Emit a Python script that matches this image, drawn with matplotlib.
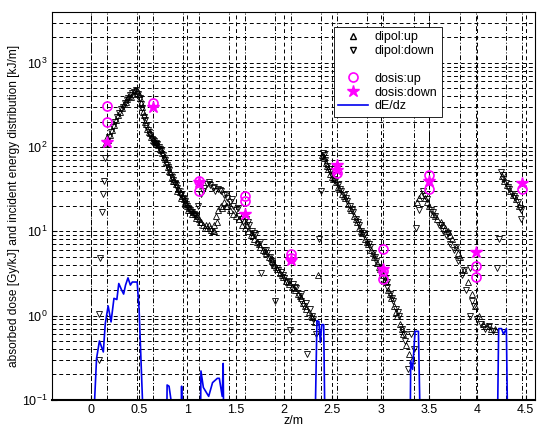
import numpy as np
import matplotlib
matplotlib.use("Agg")
import matplotlib.pyplot as plt
from matplotlib.lines import Line2D

plt.rcParams['font.family'] = ['Liberation Sans', 'DejaVu Sans']

# dipol measurements, upward orientation
z_up = [0.15, 0.17, 0.18, 0.20, 0.22, 0.24, 0.26, 0.28, 0.30, 0.32, 0.34, 0.36, 0.38, 0.40, 0.42, 0.44, 0.46, 0.48,
        0.50, 0.52, 0.54, 0.56, 0.58, 0.60, 0.62, 0.64, 0.66, 0.68, 0.70, 0.72, 0.74, 0.76, 0.78, 0.80, 0.82, 0.84,
        0.86, 0.88, 0.90, 0.92, 0.94, 0.96, 0.98, 1.00, 1.02, 1.04, 1.06, 1.08, 1.10, 1.12,
        1.14, 1.16, 1.18, 1.20, 1.22, 1.24, 1.26, 1.28, 1.30, 1.32, 1.35, 1.38, 1.41, 1.44, 1.47, 1.50, 1.53, 1.56,
        1.60, 1.63, 1.66, 1.69, 1.72, 1.75, 1.78, 1.81, 1.84, 1.87, 1.90, 1.93, 1.96, 1.99, 2.02, 2.05, 2.08, 2.11,
        2.14, 2.17, 2.20, 2.23, 2.26, 2.29, 2.32, 2.35,
        2.39, 2.41, 2.43, 2.45, 2.48, 2.51, 2.54, 2.57, 2.60, 2.63, 2.66, 2.69, 2.72, 2.75, 2.78, 2.81, 2.84, 2.87,
        2.90, 2.93, 2.96, 2.99, 3.02, 3.05, 3.08, 3.11, 3.14, 3.17, 3.20, 3.23, 3.26, 3.29, 3.32,
        3.38, 3.42, 3.46, 3.50, 3.54, 3.58, 3.62, 3.66, 3.70, 3.74, 3.78, 3.82, 3.86, 3.90, 3.94, 3.98, 4.02, 4.06,
        4.10, 4.14, 4.18, 4.25, 4.28, 4.31, 4.34, 4.37, 4.40, 4.43,
        0.51, 0.53, 0.55, 0.57, 0.61, 0.65, 0.69, 0.73, 0.77, 0.81, 0.85, 0.89, 0.93, 0.97, 1.01, 1.05, 1.09, 1.13,
        1.19, 1.23, 1.27, 1.31, 1.36, 1.40,
        1.62, 1.68, 1.74, 1.80, 1.86, 1.92, 1.98, 2.04, 2.10, 2.16, 2.22, 2.28,
        2.40, 2.44, 2.50, 2.56, 2.62, 2.68, 2.74, 2.80, 2.86, 2.92, 2.98, 3.04, 3.10, 3.16, 3.22,
        3.40, 3.48, 3.56, 3.64, 3.72, 3.80]
v_up = [110, 130, 120, 140, 160, 185, 210, 240, 260, 290, 320, 340, 370, 400, 390, 430, 470, 460,
        420, 330, 260, 200, 165, 150, 130, 120, 115, 110, 105, 95, 85, 77, 66, 58, 50, 44,
        40, 36, 32, 29, 26, 24, 22, 20, 19, 18, 17, 16, 15, 14,
        13, 12, 11, 11, 12, 10.5, 10, 12, 15, 18, 20, 22, 20, 18, 16, 15, 14, 12,
        11, 10, 9, 8, 7.5, 6.5, 6, 5.5, 5, 4.5, 4, 3.6, 3.2, 2.9, 2.6, 2.4, 2.2, 2.0,
        1.8, 1.6, 1.4, 1.2, 1.1, 0.95, 0.85, 3.0,
        80, 75, 65, 55, 48, 42, 38, 32, 28, 25, 21, 18, 15, 13, 11, 9.5, 8, 7,
        6, 5, 4.2, 3.6, 3, 2.5, 2.0, 1.6, 1.3, 1.0, 0.8, 0.6, 0.45, 0.35, 0.3,
        22, 27, 25, 20, 16, 14, 13, 11, 10, 8, 6.5, 5, 3.5, 2.5, 1.8, 1.3, 1.0, 0.8,
        0.75, 0.7, 0.7, 45, 40, 35, 30, 27, 24, 20,
        380, 300, 240, 190, 145, 118, 108, 92, 72, 52, 40, 30, 25, 21, 18, 16, 14.5, 13,
        12, 11, 10, 13, 19, 20,
        12, 9, 7, 5.8, 4.8, 3.8, 3.0, 2.5, 2.1, 1.7, 1.3, 1.0,
        78, 60, 44, 34, 26, 19, 14, 10, 7.5, 5.5, 3.8, 2.7, 1.8, 1.1, 0.7,
        25, 22, 15, 12, 9, 5.5]

# dipol measurements, downward orientation
z_dn = [0.09, 0.09, 0.10, 0.12, 0.13, 0.14, 0.15, 0.17, 0.19, 0.21, 0.23, 0.25, 0.27, 0.29, 0.31, 0.33, 0.35, 0.37,
        0.39, 0.41, 0.43, 0.45, 0.47, 0.49, 0.51, 0.53, 0.55, 0.57, 0.59, 0.61, 0.63, 0.65, 0.67, 0.69, 0.71, 0.73,
        0.75, 0.77, 0.79, 0.81, 0.83, 0.85, 0.87, 0.89, 0.91, 0.93, 0.95, 0.97, 0.99, 1.01, 1.03, 1.05, 1.07, 1.09,
        1.11, 1.14, 1.17, 1.20, 1.23, 1.26, 1.29, 1.32, 1.35, 1.38, 1.41, 1.44, 1.47, 1.50, 1.53, 1.56, 1.58,
        1.61, 1.64, 1.67, 1.70, 1.73, 1.76, 1.79, 1.82, 1.85, 1.88, 1.91, 1.94, 1.97, 2.00, 2.03, 2.06, 2.09, 2.12,
        2.15, 2.18, 2.21, 2.24, 2.27, 2.30, 2.33, 2.36,
        2.38, 2.40, 2.42, 2.44, 2.47, 2.50, 2.53, 2.56, 2.59, 2.62, 2.65, 2.68, 2.71, 2.74, 2.77, 2.80, 2.83, 2.86,
        2.89, 2.92, 2.95, 2.98, 3.01, 3.04, 3.07, 3.10, 3.13, 3.16, 3.19, 3.22, 3.25, 3.28, 3.31, 3.34,
        3.37, 3.40, 3.44, 3.48, 3.52, 3.56, 3.60, 3.64, 3.68, 3.72, 3.76, 3.80, 3.84, 3.88, 3.92, 3.92, 3.96, 4.00,
        4.04, 4.08, 4.12, 4.16, 4.20, 4.22, 4.24, 4.27, 4.30, 4.33, 4.36, 4.39, 4.42, 4.45, 4.45,
        0.52, 0.56, 0.60, 0.64, 0.68, 0.72, 0.76, 0.80, 0.84, 0.88, 0.92, 0.96, 1.00, 1.04, 1.08,
        1.16, 1.22, 1.28, 1.34, 1.40, 1.46, 1.52,
        1.63, 1.69, 1.75, 1.81, 1.87, 1.93, 1.99, 2.05, 2.11, 2.17, 2.23, 2.29,
        2.41, 2.46, 2.52, 2.58, 2.64, 2.70, 2.76, 2.82, 2.88, 2.94, 3.00, 3.06, 3.12, 3.18, 3.24,
        3.46, 3.54, 3.62, 3.70, 3.78, 3.86, 3.94, 4.26, 4.32, 4.38, 4.44]
v_dn = [0.3, 1.05, 4.8, 17, 28, 40, 74, 110, 130, 150, 175, 200, 225, 250, 280, 300, 330, 360,
        380, 410, 440, 450, 480, 430, 380, 290, 230, 180, 160, 140, 125, 118, 112, 108, 100, 90,
        80, 70, 62, 54, 47, 41, 37, 33, 30, 27, 25, 23, 21, 19, 18, 17, 16, 15,
        20, 28, 33, 36, 35, 33, 30, 32, 30, 27, 25, 22, 20, 18, 15, 14, 13,
        14, 12, 10, 9, 7, 3.2, 6, 5.5, 5, 4, 1.5, 3.5, 3.3, 2.8, 2.5, 0.67, 2.4, 2.1,
        1.7, 1.5, 1.3, 0.35, 1.2, 0.9, 0.6, 8,
        30, 85, 70, 60, 50, 45, 40, 35, 30, 27, 23, 20, 17, 14, 12, 10, 9, 7.5,
        6.5, 5.5, 4.5, 3.8, 3.2, 2.8, 2.2, 1.8, 1.5, 1.2, 1.0, 0.7, 0.5, 0.23, 0.6, 0.4,
        11, 18, 30, 24, 18, 15, 12, 10, 9, 7, 6, 4.5, 3, 2, 3.7, 1.0, 1.3, 0.9,
        0.8, 0.7, 0.75, 0.65, 3.7, 8, 50, 42, 37, 32, 28, 25, 22, 18, 14,
        320, 210, 150, 122, 110, 95, 75, 58, 44, 35, 28, 24, 20, 17, 15.5,
        30, 38, 34, 31, 28, 24, 19,
        13, 9.5, 7.5, 6, 4.5, 3.7, 3, 2.6, 2.2, 1.8, 1.4, 1.0,
        80, 55, 42, 32, 25, 18, 13, 9.5, 7, 5, 3.5, 2.5, 1.6, 1.1, 0.6,
        26, 17, 12, 9.5, 6.5, 3.5, 1.5, 46, 34, 26, 19]

# dosimeter readings
z_dos_up = [0.165, 0.165, 0.642, 1.119, 1.119, 1.596, 1.596, 2.073, 2.073, 2.55, 3.027, 3.027, 3.027,
            3.504, 3.504, 3.981, 3.981, 4.458]
v_dos_up = [307, 200, 330, 40, 30, 26, 23, 5.4, 4.8, 49, 6.2, 3.4, 2.7, 46, 32, 3.9, 2.9, 32]
z_dos_dn = [0.165, 0.642, 1.119, 1.596, 2.073, 2.55, 2.55, 3.027, 3.504, 3.981, 4.458]
v_dos_dn = [116, 300, 38, 16, 4.6, 61, 53, 3.6, 40, 5.7, 37]

# incident energy distribution
z_dedz = [0.03, 0.04, 0.06, 0.09, 0.13, 0.15, 0.18, 0.21, 0.24, 0.27, 0.29, 0.32, 0.34, 0.36, 0.385, 0.41,
          0.43, 0.45, 0.48, 0.50, 0.535, 0.78, 0.79, 0.81, 0.83, 0.84, 0.93, 0.94, 0.95, 1.13, 1.14, 1.165,
          1.22, 1.26, 1.31, 1.33, 1.36, 1.37, 1.38, 2.31, 2.34, 2.36, 2.375, 2.39, 2.41, 2.43, 3.30, 3.31,
          3.33, 3.355, 3.39, 3.42, 4.20, 4.22, 4.25, 4.27, 4.30, 4.32, 4.40]
v_dedz = [0.01, 0.1, 0.31, 0.5, 0.37, 0.8, 1.3, 0.84, 1.6, 1.55, 2.4, 2.0, 1.8, 2.3, 2.8, 2.3,
          2.5, 2.5, 2.5, 1.2, 0.1, 0.01, 0.15, 0.145, 0.1, 0.01, 0.01, 0.145, 0.01, 0.01, 0.22, 0.14,
          0.11, 0.16, 0.18, 0.18, 0.11, 0.27, 0.01, 0.01, 0.87, 0.85, 0.48, 0.78, 0.78, 0.01, 0.01, 0.29,
          0.23, 0.65, 0.65, 0.01, 0.01, 0.7, 0.7, 0.6, 0.7, 0.01, 0.01]

# magnet edges
z_edges = [0.0, 0.165, 0.477, 0.642, 0.954, 1.119, 1.431, 1.596, 1.908, 2.073,
           2.385, 2.55, 2.862, 3.027, 3.339, 3.504, 3.816, 3.981, 4.293, 4.458]
x_ticks = [0, 0.5, 1, 1.5, 2, 2.5, 3, 3.5, 4, 4.5]

fig = plt.figure(figsize=(5.37, 4.29), dpi=100)
ax = fig.add_axes([0.097, 0.068, 0.9, 0.904])
ax.set_yscale('log')
ax.set_xlim(-0.4, 4.6)
ax.set_ylim(0.1, 4000)

# grid
for y in [a * 10.0 ** e for e in range(-1, 4) for a in range(1, 10)]:
    if 0.1 <= y <= 4000:
        ax.axhline(y, color='black', linestyle=(0, (4, 3)), linewidth=0.7, zorder=0)
for x in x_ticks:
    ax.axvline(x, color='black', linestyle=(0, (4, 3)), linewidth=0.7, zorder=0)
for x in z_edges:
    ax.axvline(x, color='black', linestyle=(0, (5, 2, 1, 2)), linewidth=0.7, zorder=0)

ax.plot(z_up, v_up, linestyle='none', marker='^', markersize=4.2, markerfacecolor='none',
        markeredgecolor='black', markeredgewidth=0.6)
ax.plot(z_dn, v_dn, linestyle='none', marker='v', markersize=4.2, markerfacecolor='none',
        markeredgecolor='black', markeredgewidth=0.6)
ax.plot(z_dos_up, v_dos_up, linestyle='none', marker='o', markersize=6.5, markerfacecolor='none',
        markeredgecolor='magenta', markeredgewidth=1.2)
ax.plot(z_dos_dn, v_dos_dn, linestyle='none', marker='*', markersize=9, color='magenta')
ax.plot(z_dedz, v_dedz, color='#0000ee', linewidth=1.2)

ax.set_xticks(x_ticks)
ax.set_xticklabels(['0', '0.5', '1', '1.5', '2', '2.5', '3', '3.5', '4', '4.5'])
ax.set_yticks([0.1, 1, 10, 100, 1000])
ax.tick_params(axis='both', which='both', direction='in', labelsize=9)
ax.tick_params(axis='x', pad=3)
ax.tick_params(axis='y', which='minor', length=2)
ax.spines['bottom'].set_linewidth(1.5)
ax.set_xlabel('z/m', fontsize=9, labelpad=-1)
ax.set_ylabel('absorbed dose [Gy/kJ] and incident energy distribution [kJ/m]', fontsize=8.6, labelpad=1)

handles = [
    Line2D([], [], linestyle='none', marker='^', markersize=4, markerfacecolor='none', markeredgecolor='black'),
    Line2D([], [], linestyle='none', marker='v', markersize=4, markerfacecolor='none', markeredgecolor='black'),
    Line2D([], [], linestyle='none'),
    Line2D([], [], linestyle='none', marker='o', markersize=6.5, markerfacecolor='none',
           markeredgecolor='magenta', markeredgewidth=1.2),
    Line2D([], [], linestyle='none', marker='*', markersize=9, color='magenta'),
    Line2D([], [], color='#0000ee', linewidth=1.2),
]
labels = ['dipol:up', 'dipol:down', ' ', 'dosis:up', 'dosis:down', 'dE/dz']
leg = ax.legend(handles, labels, loc='upper left', bbox_to_anchor=(0.583, 0.962), fontsize=9,
                frameon=True, fancybox=False, edgecolor='black', framealpha=1, borderaxespad=0,
                handlelength=2.4, handletextpad=0.5, labelspacing=0.15, borderpad=0.35)
leg.get_frame().set_linewidth(0.6)

fig.savefig('out.png', dpi=100)
